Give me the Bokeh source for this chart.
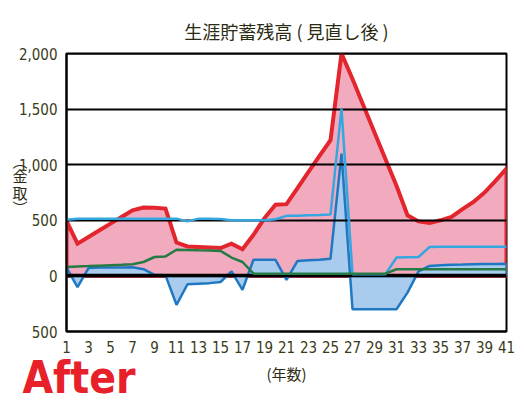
from bokeh.plotting import figure
from bokeh.models import Range1d, FixedTicker, LinearAxis, Title
from bokeh.embed import file_html
from bokeh.resources import INLINE

# ---- data ----
years = list(range(1, 42))
savings_red = [495, 290, 350, 410, 470, 530, 590, 615, 612, 605,
               300, 265, 260, 255, 250, 290, 240, 370, 520, 640,
               645, 790, 935, 1080, 1220, 2000, 1770, 1530, 1290, 1050,
               810, 545, 490, 475, 500, 530, 600, 665, 750, 855, 965]
flow_darkblue = [75, -100, 70, 75, 75, 75, 78, 60, 10, 5,
                 -260, -75, -70, -65, -55, 40, -125, 145, 145, 145,
                 -35, 135, 140, 145, 155, 1100, -300, -300, -300, -300,
                 -300, -150, 40, 90, 95, 100, 102, 105, 107, 108, 110]
line_lightblue = [505, 515, 515, 515, 515, 515, 515, 515, 515, 515,
                  515, 490, 515, 515, 512, 500, 500, 500, 500, 510,
                  540, 542, 545, 548, 552, 1505, 15, 15, 15, 15,
                  165, 168, 170, 260, 262, 262, 262, 262, 262, 262, 262]
line_green = [80, 85, 88, 92, 96, 100, 105, 125, 170, 175,
              235, 233, 230, 228, 225, 165, 125, 20, 20, 20,
              20, 20, 20, 20, 20, 20, 20, 20, 20, 20,
              60, 60, 60, 60, 60, 60, 60, 60, 60, 60, 60]

x_ticks = list(range(1, 42, 2))
y_ticks = [-500, 0, 500, 1000, 1500, 2000]
y_tick_labels = ["500", "0", "500", "1,000", "1,500", "2,000"]
grid_levels = [500, 1000, 1500, 2000]

title_text = "生涯貯蓄残高 ( 見直し後 )"
xlabel_text = "(年数)"
ylabel_chars = ["︵", "金", "取", "︶"]
badge_text = "After"

# ---- figure ----
p = figure(width=525, height=405, output_backend="svg", toolbar_location=None,
           x_range=Range1d(1, 41), y_range=Range1d(-500, 2000))
p.title = Title(text=title_text, align="center", text_font="Noto Sans CJK JP",
                text_font_size="18px", text_font_style="normal",
                text_color="#2b2b14", standoff=19)
p.min_border_left = 66
p.min_border_right = 19
p.min_border_top = 53
p.min_border_bottom = 74
p.background_fill_color = "white"
p.border_fill_color = "white"
p.outline_line_color = "black"
p.outline_line_width = 2
p.xgrid.visible = False
p.ygrid.visible = False

tick_font = "DejaVu Sans Condensed"
tick_color = "#3a3a18"
for ax in (p.xaxis, p.yaxis):
    ax.axis_line_color = "black"
    ax.axis_line_width = 2
    ax.major_tick_line_color = None
    ax.minor_tick_line_color = None
    ax.major_label_text_font = tick_font
    ax.major_label_text_font_size = "15px"
    ax.major_label_text_color = tick_color
p.xaxis.ticker = FixedTicker(ticks=x_ticks)
p.yaxis.ticker = FixedTicker(ticks=y_ticks)
p.yaxis.major_label_overrides = {t: l for t, l in zip(y_ticks, y_tick_labels)}
p.xaxis.major_label_standoff = 3
p.yaxis.major_label_standoff = 3
p.xaxis.axis_label = xlabel_text
p.xaxis.axis_label_standoff = 7
p.xaxis.axis_label_text_font = "Noto Sans CJK JP"
p.xaxis.axis_label_text_font_style = "normal"
p.xaxis.axis_label_text_font_size = "15px"
p.xaxis.axis_label_text_color = "#2b2b14"

# upright vertical y label: characters as labels of a bare second left axis
ylab_pos = [1040, 903, 750, 618]
ylab_axis = LinearAxis(ticker=FixedTicker(ticks=ylab_pos),
                       major_label_overrides=dict(zip(ylab_pos, ylabel_chars)),
                       axis_line_color=None, major_tick_line_color=None,
                       minor_tick_line_color=None, major_label_standoff=-18,
                       major_label_text_font="Noto Sans CJK JP",
                       major_label_text_font_size="15px",
                       major_label_text_color="#2b2b14")
p.add_layout(ylab_axis, "left")

# "After" badge as a label of a bare axis below the x axis
badge_x = 2.14
badge_axis = LinearAxis(ticker=FixedTicker(ticks=[badge_x]),
                        major_label_overrides={badge_x: badge_text},
                        axis_line_color=None, major_tick_line_color=None,
                        minor_tick_line_color=None,
                        major_label_standoff=-41,
                        major_label_text_font="DejaVu Sans Condensed",
                        major_label_text_font_style="bold",
                        major_label_text_font_size="44px",
                        major_label_text_color="#e8202a")
p.add_layout(badge_axis, "below")

# pink area with red outline
p.patch([years[0]] + years + [years[-1]], [0] + savings_red + [0],
        fill_color="#f2aabe", line_color="#e3262d", line_width=4,
        line_join="miter")
# blue area with dark blue outline
p.patch([years[0]] + years + [years[-1]], [0] + flow_darkblue + [0],
        fill_color="#a9ccee", line_color="#1f78c1", line_width=2.5)

# grid lines on top of fills
p.hspan(y=grid_levels, line_color="black", line_width=2)
p.hspan(y=[0], line_color="black", line_width=3.5)

p.line(years, line_lightblue, line_color="#35a7e0", line_width=2.5)
p.line(years, line_green, line_color="#267a45", line_width=2.5)

open("out.html", "w").write(file_html(p, INLINE))
